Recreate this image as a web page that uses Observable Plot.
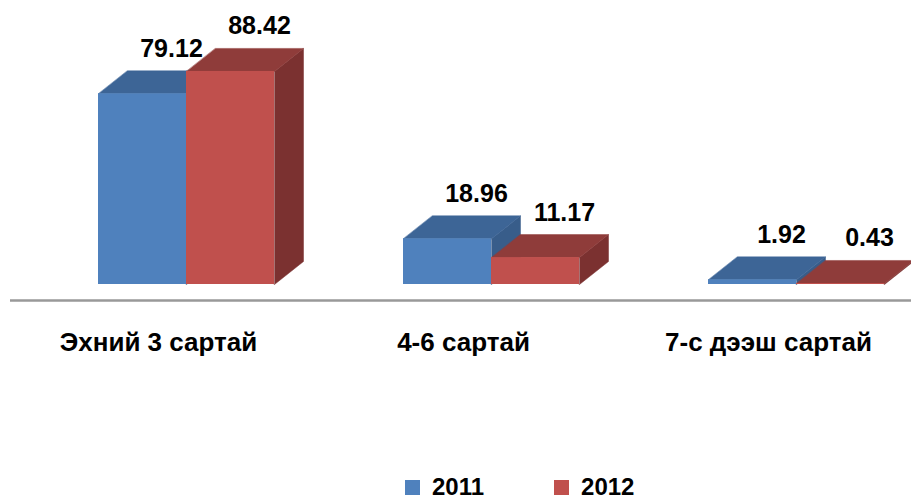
<!DOCTYPE html>
<html>
<head>
<meta charset="utf-8">
<script src="https://cdn.jsdelivr.net/npm/d3@7"></script>
<script src="https://cdn.jsdelivr.net/npm/@observablehq/plot@0.6"></script>
<style>
  html, body { margin: 0; padding: 0; background: #fff; }
  #chart svg { display: block; }
  div.lg-swatches { font-family: "Liberation Sans", Arial, sans-serif !important; font-weight: bold !important; font-size: 24px !important; color: #000 !important;
    margin: 0 !important; padding-left: 405px !important; padding-top: 8px !important; height: 26px; min-height: 26px; align-items: center; box-sizing: content-box; line-height: 26px; }
  span.lg-swatch { margin-right: 70px !important; }
  span.lg-swatch svg { margin-right: 12px !important; }
</style>
</head>
<body>
<div id="chart"></div>
<script>
const categories = ["Эхний 3 сартай", "4-6 сартай", "7-с дээш сартай"];
const series = ["2011", "2012"];
const values2011 = [79.12, 18.96, 1.92];
const values2012 = [88.42, 11.17, 0.43];
const labels2011 = ["79.12", "18.96", "1.92"];
const labels2012 = ["88.42", "11.17", "0.43"];

const seriesValues = [values2011, values2012];
const seriesLabels = [labels2011, labels2012];

// styling
const frontColors = ["#4F81BD", "#C0504D"];
const topColors = ["#3D6596", "#8F3C3A"];
const sideColors = ["#385D8A", "#7B3130"];

// geometry (in scale units): group spacing = 1 x-unit
const W = 911, H = 466;
const groupPx = 305;
const BW = 88 / groupPx;       // bar width
const DX = 29 / groupPx;       // depth x
const pxPerUnit = 2.41;
const DY = 23 / pxPerUnit;     // depth y
const x0px = 186;              // pixel of group 0 center
const marginLeft = 10, marginRight = 0;

const rows = series.flatMap((s, j) => categories.map((c, i) => ({
  cat: c, i, s, j, v: seriesValues[j][i], label: seriesLabels[j][i],
  x1: i - BW + j * BW, x2: i + j * BW
})));

const marks = [];
marks.push(Plot.ruleY([0], {stroke: "#999", strokeWidth: 2.5, dy: 16}));

series.forEach((s, j) => {
  const r = rows.filter(d => d.j === j);
  const sides = r.flatMap(d => [
    {k: d.cat, x: d.x2, y: 0},
    {k: d.cat, x: d.x2 + DX, y: DY},
    {k: d.cat, x: d.x2 + DX, y: d.v + DY},
    {k: d.cat, x: d.x2, y: d.v}
  ]);
  const tops = r.flatMap(d => [
    {k: d.cat, x: d.x1, y: d.v},
    {k: d.cat, x: d.x2, y: d.v},
    {k: d.cat, x: d.x2 + DX, y: d.v + DY},
    {k: d.cat, x: d.x1 + DX, y: d.v + DY}
  ]);
  marks.push(Plot.line(sides, {x: "x", y: "y", z: "k", fill: sideColors[j], stroke: sideColors[j], strokeWidth: 0.5, curve: "linear-closed"}));
  marks.push(Plot.line(tops, {x: "x", y: "y", z: "k", fill: topColors[j], stroke: topColors[j], strokeWidth: 0.5, curve: "linear-closed"}));
  marks.push(Plot.rect(r, {x1: "x1", x2: "x2", y1: 0, y2: "v", fill: frontColors[j]}));
});

marks.push(Plot.text(rows, {
  x: d => (d.x1 + d.x2) / 2 + DX, y: "v", text: "label", dy: -45,
  fontSize: 25, fontWeight: "bold", fill: "#000"
}));
marks.push(Plot.text(categories, {
  x: (d, i) => i, y: () => 0, text: d => d, dx: -28, dy: 58,
  fontSize: 26, fontWeight: "bold", fill: "#000"
}));

const chart = Plot.plot({
  width: W, height: H,
  marginLeft, marginRight, marginTop: 43, marginBottom: H - 284,
  style: {fontFamily: "'Liberation Sans', Arial, sans-serif", background: "#fff", overflow: "visible"},
  x: {type: "linear", domain: [(marginLeft - x0px) / groupPx, (W - marginRight - x0px) / groupPx], axis: null},
  y: {domain: [0, 100], axis: null},
  color: {domain: series, range: frontColors},
  marks
});
document.getElementById("chart").appendChild(chart);
const legend = chart.legend("color", {className: "lg", swatchSize: 15});
document.getElementById("chart").appendChild(legend);
</script>
</body>
</html>
